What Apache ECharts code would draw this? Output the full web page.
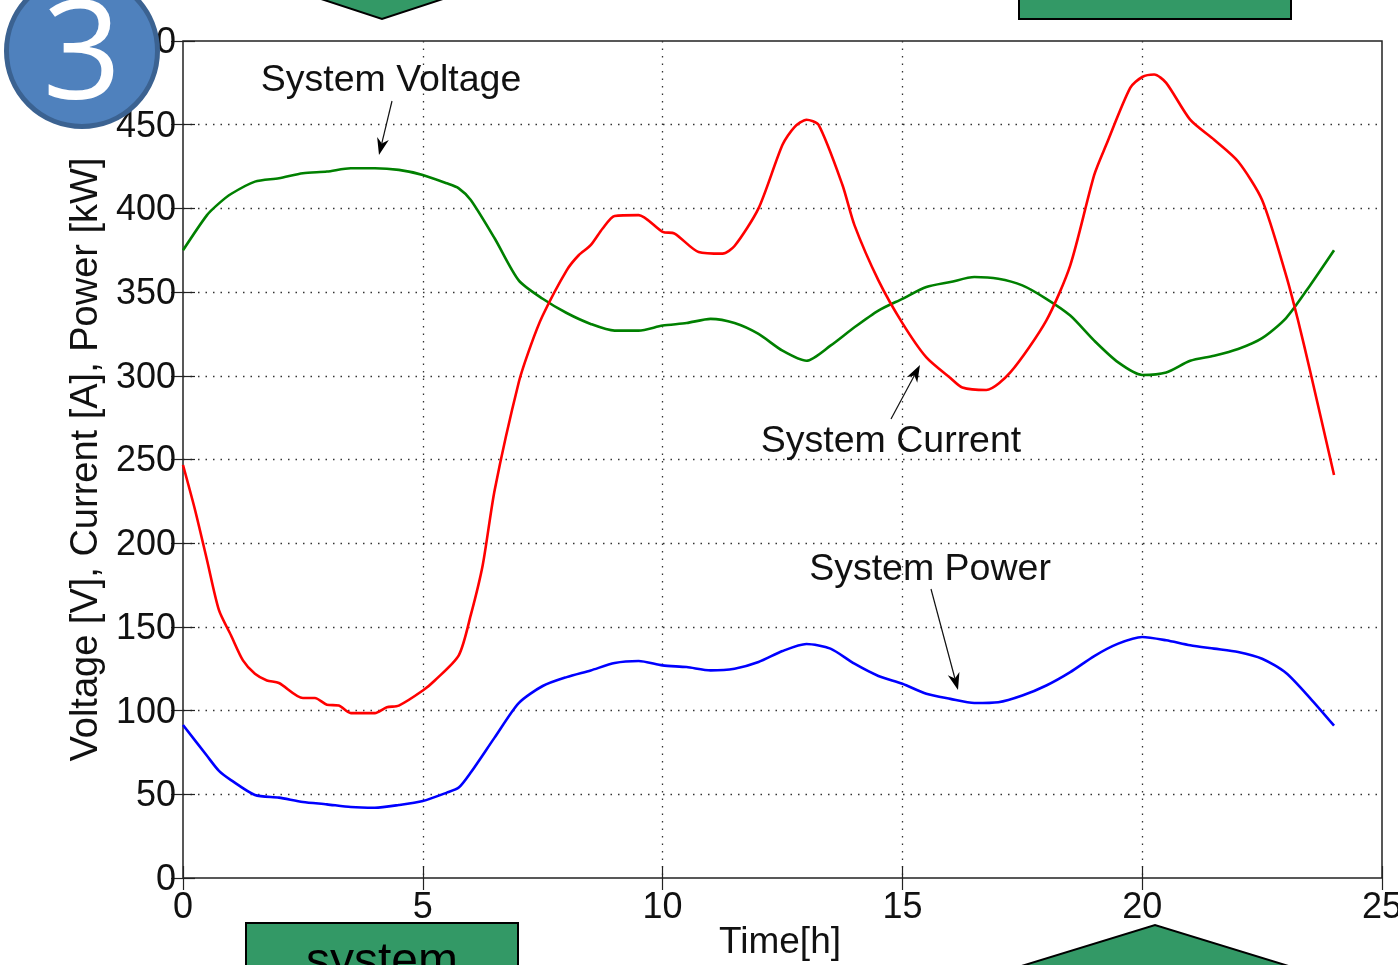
<!DOCTYPE html>
<html><head><meta charset="utf-8">
<style>html,body{margin:0;padding:0;background:#fff;overflow:hidden}#c{width:1398px;height:965px}</style>
<script src="https://cdn.jsdelivr.net/npm/echarts@6/dist/echarts.min.js"></script></head>
<body><div id="c"></div>
<script>
const xTicks=[0,5,10,15,20,25];
const yTicks=[0,50,100,150,200,250,300,350,400,450,500];
const voltageHours=[0,0.5,0.75,1,1.5,2,2.5,3,3.5,4,4.5,5,5.5,5.75,6,6.5,7,7.5,8,8.5,9,9.5,10,10.5,11,11.5,12,12.5,13,13.5,14,14.5,15,15.5,16,16.5,17,17.5,18,18.5,19,19.5,20,20.5,21,21.5,22,22.5,23,23.5,24];
const voltageValues=[375,396,403,408.6,416,418,421,422,424,424,423,420,415,412,405,382,357,346,337.5,331,327,327,330,331.5,334,331.5,325,315,309,318,329,339,346,353,356,359,358,354,346,336,321,308,300.5,302,309,312,316,322.5,334.5,354,375];
const currentHours=[0,0.25,0.5,0.75,1,1.25,1.5,1.75,2,2.5,2.75,3,3.25,3.5,4,4.25,4.5,5,5.25,5.75,6,6.25,6.5,7,7.25,7.5,8,8.25,8.5,8.75,9,9.5,10,10.25,10.75,11.25,11.5,12,12.5,12.75,13,13.25,13.75,14,14.5,15,15.5,16,16.25,16.75,17.25,18,18.5,19,19.25,19.75,20,20.25,20.5,21,21.5,22,22.5,23,23.25,23.5,24];
const currentValues=[246.7,220,190,160,145,130,122,118,116.5,107.5,107.5,103.5,103,98.5,98.5,102,103,112,118,133,157,187,232,296,318,336,363,372,378,388,395.5,396,386,385,374,373,377.5,400,438,448.6,453,450,414,390,357,331.5,311,298.7,293,291.5,302,333,366,420,438,472,478.5,480,475,453,441,428,405,360,333,303,240.7];
const powerHours=[0,0.5,0.75,1,1.5,2,2.5,3,3.5,4,4.5,5,5.5,5.75,6,6.5,7,7.5,8,8.5,9,9.5,10,10.5,11,11.5,12,12.5,13,13.5,14,14.5,15,15.5,16,16.5,17,17.5,18,18.5,19,19.5,20,20.5,21,21.5,22,22.5,23,23.5,24];
const powerValues=[91.4,73,64,58.5,49.6,48,45.4,44,42.4,42,43.6,46,51,54,63,84,104.5,114.7,120,124,128.4,129.6,127,126,124,125,129,135.6,139.8,137,128,120.7,116,110,107,104.5,105,109,115,123,132.6,140,144,142,139,137,135,131,122.5,107.5,91];
const zip=(a,b)=>a.map((v,i)=>[v,b[i]]);
const font='"Liberation Sans",Arial,sans-serif';
const chart=echarts.init(document.getElementById('c'),null,{renderer:'canvas'});
const grid={left:183,top:41,width:1199,height:837,show:true,borderColor:'#222',borderWidth:1.5,backgroundColor:'#fff',outerBoundsMode:'none',containLabel:false};
const dotted={show:true,showMinLine:false,showMaxLine:false,lineStyle:{color:'#333',type:[1.5,6],width:1.3}};
const tick={show:true,inside:true,length:12,lineStyle:{color:'#222',width:1.2}};
const label={color:'#111',fontFamily:font,fontSize:36};
function line(data,color){return {type:'line',data,showSymbol:false,symbol:'none',smooth:0.25,clip:false,lineStyle:{color,width:2.6},itemStyle:{color},animation:false};}
function arrow(x1,y1,x2,y2){
  const a=Math.atan2(y2-y1,x2-x1),L=17,W=6;
  const bx=x2-L*Math.cos(a),by=y2-L*Math.sin(a),nx=-Math.sin(a)*W,ny=Math.cos(a)*W;
  const ix=x2-L*0.7*Math.cos(a),iy=y2-L*0.7*Math.sin(a);
  return [{type:'line',z:20,shape:{x1,y1,x2:ix,y2:iy},style:{stroke:'#111',lineWidth:1.2}},
          {type:'polygon',z:20,shape:{points:[[x2,y2],[bx+nx,by+ny],[ix,iy],[bx-nx,by-ny]]},style:{fill:'#000'}}];
}
function note(text,cx,cy){return {type:'text',z:20,x:cx,y:cy,style:{text,font:'37.5px '+font,fill:'#111',align:'center',verticalAlign:'middle'}};}
const green='#339966';
const shapeStroke={fill:green,stroke:'#000',lineWidth:2};
chart.setOption({
  animation:false,
  backgroundColor:'#fff',
  grid,
  xAxis:[
   {type:'value',min:0,max:25,interval:5,axisLine:{show:false},axisTick:tick,splitLine:dotted,
    axisLabel:{...label,margin:12,hideOverlap:false,showMaxLabel:true,showMinLabel:true,formatter:v=>xTicks.includes(v)?String(v):''},
    name:'Time[h]',nameLocation:'middle',nameGap:46,nameMoveOverlap:false,nameTextStyle:{color:'#111',fontFamily:font,fontSize:37,padding:[0,5,0,0]}},
   {type:'value',position:'top',min:0,max:25,interval:5,axisLine:{show:false},axisTick:tick,axisLabel:{show:false},splitLine:{show:false}}
  ],
  yAxis:[
   {type:'value',min:0,max:500,interval:50,axisLine:{show:false},axisTick:tick,splitLine:dotted,
    axisLabel:{...label,margin:7,verticalAlign:'top',lineHeight:4,formatter:v=>yTicks.includes(v)?String(v):''},
    name:'Voltage [V], Current [A], Power [kW]',nameLocation:'middle',nameGap:77,nameRotate:90,nameTextStyle:{color:'#111',fontFamily:font,fontSize:38}},
   {type:'value',position:'right',min:0,max:500,interval:50,axisLine:{show:false},axisTick:tick,axisLabel:{show:false},splitLine:{show:false}}
  ],
  series:[line(zip(voltageHours,voltageValues),'#008000'),line(zip(currentHours,currentValues),'#ff0000'),line(zip(powerHours,powerValues),'#0000ff')],
  graphic:[
    note('System Voltage',391,81),note('System Current',891,442),note('System Power',930,570),
    ...arrow(392,101,379,155),...arrow(891,419,920,365),...arrow(931,589,958,690),
    {type:'polygon',z:30,shape:{points:[[312,-4],[382,19],[452,-4]]},style:shapeStroke},
    {type:'rect',z:30,shape:{x:1019,y:-5,width:272,height:24},style:shapeStroke},
    {type:'rect',z:30,shape:{x:246,y:923,width:272,height:50},style:shapeStroke},
    {type:'text',z:31,x:382,y:963,style:{text:'system',font:'48px '+font,fill:'#000',align:'center',verticalAlign:'middle'}},
    {type:'polygon',z:30,shape:{points:[[1015,968],[1155,925],[1295,968]]},style:shapeStroke},
    {type:'circle',z:40,shape:{cx:82,cy:51,r:75.5},style:{fill:'#4f81bd',stroke:'#3b6291',lineWidth:5}},
    {type:'text',z:41,x:82,y:60,style:{text:'3',font:'138px "Open Sans",sans-serif',fill:'#fff',align:'center',verticalAlign:'middle'}}
  ]
});
</script></body></html>
